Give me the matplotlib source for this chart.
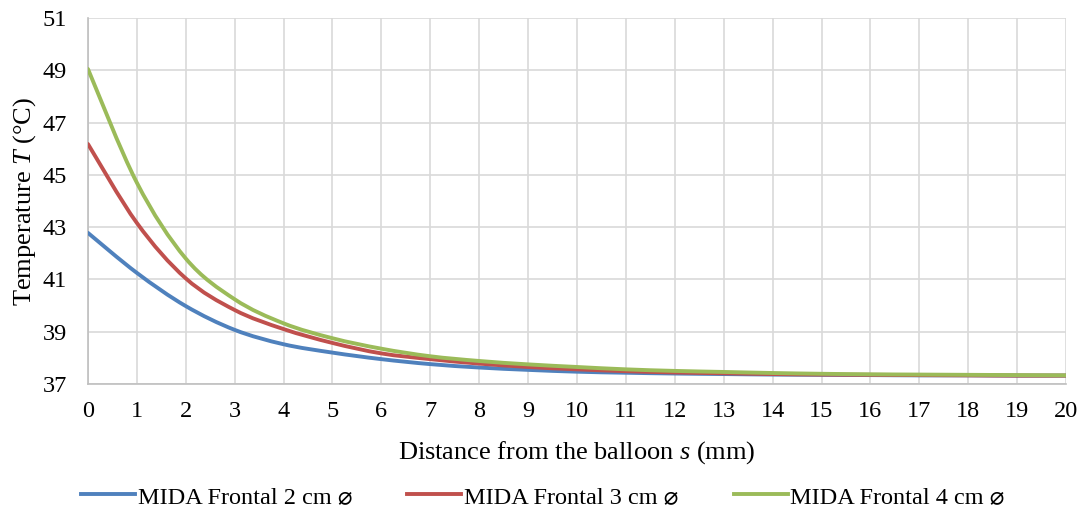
import matplotlib
matplotlib.use("Agg")
import matplotlib.pyplot as plt
from matplotlib.path import Path
from matplotlib.patches import PathPatch
from matplotlib.lines import Line2D

plt.rcParams['font.family'] = ['Liberation Serif', 'DejaVu Sans']
plt.rcParams['mathtext.fontset'] = 'custom'
plt.rcParams['mathtext.rm'] = 'Liberation Serif'
plt.rcParams['mathtext.it'] = 'Liberation Serif:italic'

distance = list(range(0, 21))
mida_2cm = [42.78, 41.25, 39.98, 39.07, 38.52, 38.20, 37.95, 37.76, 37.63, 37.54,
            37.47, 37.43, 37.40, 37.38, 37.36, 37.35, 37.34, 37.33, 37.33, 37.32, 37.32]
mida_3cm = [46.18, 43.16, 41.04, 39.83, 39.10, 38.57, 38.17, 37.95, 37.78, 37.65,
            37.56, 37.49, 37.44, 37.41, 37.38, 37.36, 37.35, 37.34, 37.33, 37.32, 37.32]
mida_4cm = [49.05, 44.70, 41.80, 40.24, 39.32, 38.75, 38.35, 38.06, 37.88, 37.75,
            37.65, 37.56, 37.50, 37.46, 37.42, 37.39, 37.37, 37.36, 37.35, 37.34, 37.33]
labels = ["MIDA Frontal 2 cm \u2300", "MIDA Frontal 3 cm \u2300", "MIDA Frontal 4 cm \u2300"]
colors = ["#4f81bd", "#c0504d", "#9bbb59"]
yticks = [37, 39, 41, 43, 45, 47, 49, 51]


def smooth_path(xs, ys):
    # Catmull-Rom style Bezier smoothing (like spreadsheet smoothed lines)
    pts = list(zip(xs, ys))
    n = len(pts)
    verts = [pts[0]]
    codes = [Path.MOVETO]
    for i in range(n - 1):
        p0 = pts[i - 1] if i > 0 else pts[i]
        p1 = pts[i]
        p2 = pts[i + 1]
        p3 = pts[i + 2] if i + 2 < n else pts[i + 1]
        c1 = (p1[0] + (p2[0] - p0[0]) / 6, p1[1] + (p2[1] - p0[1]) / 6)
        c2 = (p2[0] - (p3[0] - p1[0]) / 6, p2[1] - (p3[1] - p1[1]) / 6)
        verts += [c1, c2, p2]
        codes += [Path.CURVE4] * 3
    return Path(verts, codes)


fig = plt.figure(figsize=(10.86, 5.15), dpi=100)
ax = fig.add_axes([0.081, 0.2544, 0.9006, 0.7106])

for ys, c in zip([mida_2cm, mida_3cm, mida_4cm], colors):
    patch = PathPatch(smooth_path(distance, ys), facecolor='none', edgecolor=c,
                      lw=2.8, capstyle='round', joinstyle='round', zorder=3)
    ax.add_patch(patch)

ax.set_xlim(0, 20)
ax.set_ylim(37, 51)
ax.set_xticks(distance)
ax.set_yticks(yticks)
ax.grid(True, color='#d9d9d9', lw=1.2)
ax.set_axisbelow(True)
for s in ['top', 'right']:
    ax.spines[s].set_visible(False)
for s in ['left', 'bottom']:
    ax.spines[s].set_color('#bfbfbf')
    ax.spines[s].set_linewidth(1.2)
ax.tick_params(axis='both', length=0, labelsize=17.5)
ax.tick_params(axis='x', pad=12)
ax.tick_params(axis='y', pad=15)

ax.set_xlabel("Distance from the balloon $s$ (mm)", fontsize=19, labelpad=12.5)
ax.set_ylabel("Temperature $T$ (\u00b0C)", fontsize=19, labelpad=3.7)

handles = [Line2D([0], [0], color=c, lw=2.8) for c in colors]
fig.legend(handles, labels, loc='center', bbox_to_anchor=(0.5, 0.035), ncol=3,
           frameon=False, fontsize=17.5, handlelength=2.22, handletextpad=0.12,
           columnspacing=2.26)

fig.savefig("out.png", dpi=100)
